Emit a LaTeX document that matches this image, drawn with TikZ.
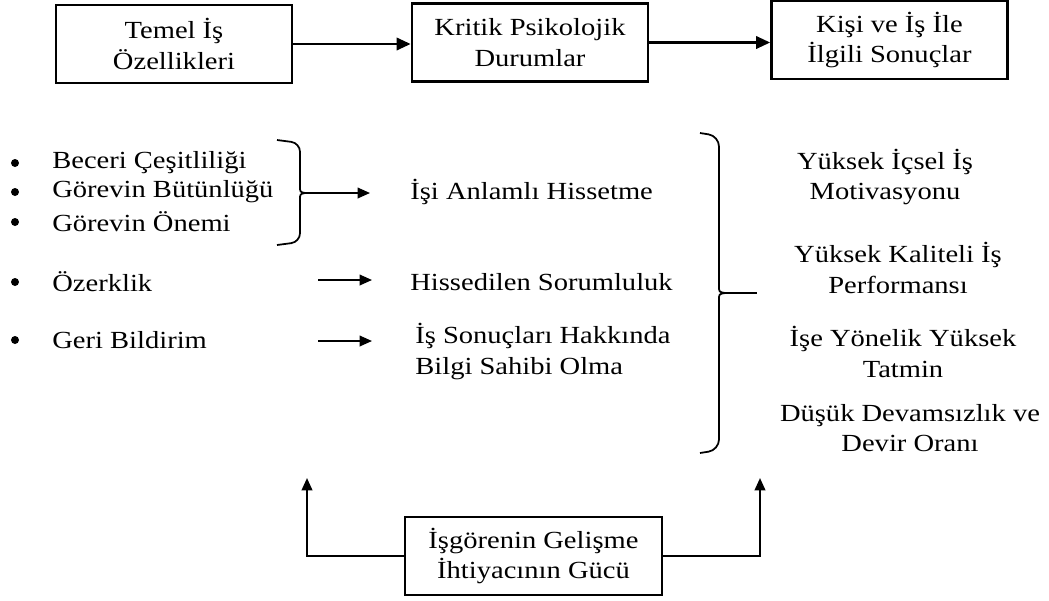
\documentclass[tikz,border=0pt]{standalone}
\usepackage{fontspec}
\setmainfont{Liberation Serif}[FakeStretch=1.16]
\usepackage{tikz}
\usetikzlibrary{arrows.meta}

\begin{document}
\begin{tikzpicture}[font=\fontsize{14}{17.4}\selectfont,
  box/.style={draw, line width=1.5pt, align=center, minimum width=4.72cm, minimum height=1.56cm, inner sep=2pt},
  item/.style={anchor=west, inner sep=0pt},
  arr/.style={-{Triangle[length=8pt,width=7pt]}, line width=1.5pt},
  sarr/.style={-{Triangle[length=7pt,width=6pt]}, line width=1pt}]
\useasboundingbox (0,0) rectangle (20.98,-12);

\node[box] (temel) at (3.48,-0.88) {Temel İş\\Özellikleri};
\node[box] (kritik) at (10.6,-0.85) {Kritik Psikolojik\\Durumlar};
\node[box] (sonuc) at (17.79,-0.8) {Kişi ve İş İle\\İlgili  Sonuçlar};

\draw[arr] (temel.east) -- (temel.east -| kritik.west);
\draw[arr] (kritik.east) -- (kritik.east -| sonuc.west);

% left column
\fill (0.3,-3.26) circle(.08);
\fill (0.3,-3.84) circle(.08);
\fill (0.3,-4.44) circle(.08);
\fill (0.3,-5.64) circle(.08);
\fill (0.3,-6.8) circle(.08);
\node[item] (beceri) at (1.04,-3.26) {Beceri Çeşitliliği};
\node[item] (butun) at (1.04,-3.84) {Görevin Bütünlüğü};
\node[item] (onem) at (1.04,-4.44) {Görevin Önemi};
\node[item] (ozerk) at (1.04,-5.64) {Özerklik};
\node[item] (geri) at (1.04,-6.8) {Geri Bildirim};

\draw[line width=1pt, rounded corners=5pt] (5.54,-2.8) -- (6.0,-2.86) -- (6.0,-3.72);
\draw[line width=1pt] (6.0,-3.72) .. controls (6.0,-3.84) .. (6.1,-3.86) .. controls (6.0,-3.88) .. (6.0,-4.0);
\draw[line width=1pt, rounded corners=5pt] (6.0,-4.0) -- (6.0,-4.84) -- (5.54,-4.9);

% middle column
\node[item] (anlam) at (8.2,-3.84) {İşi Anlamlı Hissetme};
\node[item] (sorum) at (8.2,-5.64) {Hissedilen Sorumluluk};
\node[item, align=left] (bilgi) at (8.3,-7.03) {İş Sonuçları Hakkında\\Bilgi Sahibi Olma};

\coordinate (c1) at (6.1,-3.86);
\coordinate (c2) at (6.36,-5.6);
\coordinate (c3) at (6.36,-6.82);
\draw[sarr] (c1) -- (7.4,-3.86);
\draw[sarr] (c2) -- (7.44,-5.6);
\draw[sarr] (c3) -- (7.44,-6.82);

\draw[line width=1pt, rounded corners=6pt] (14.0,-2.66) -- (14.38,-2.72) -- (14.38,-5.72);
\draw[line width=1pt] (14.38,-5.72) .. controls (14.38,-5.84) .. (14.5,-5.86) .. controls (14.38,-5.88) .. (14.38,-6.0);
\draw[line width=1pt, rounded corners=6pt] (14.38,-6.0) -- (14.38,-9.0) -- (14.0,-9.06);
\draw[line width=1pt] (14.5,-5.86) -- (15.14,-5.86);

% right column
\node[align=center] (motiv) at (17.7,-3.54) {Yüksek İçsel İş\\Motivasyonu};
\node[align=center] (perf) at (17.96,-5.36) {Yüksek Kaliteli İş\\Performansı};
\node[align=center] (tatmin) at (18.06,-7.04) {İşe Yönelik Yüksek\\Tatmin};
\node[align=center] (devir) at (18.2,-8.56) {Düşük Devamsızlık ve\\Devir Oranı};

% bottom
\node[box, line width=1.2pt, minimum width=5.14cm] (gelisme) at (10.67,-11.12) {İşgörenin Gelişme\\İhtiyacının Gücü};
\coordinate (sol) at (6.14,-9.56);
\coordinate (sag) at (15.2,-9.56);
\draw[sarr, line width=1.2pt] (gelisme.west) -| (sol);
\draw[sarr, line width=1.2pt] (gelisme.east) -| (sag);

\end{tikzpicture}
\end{document}
